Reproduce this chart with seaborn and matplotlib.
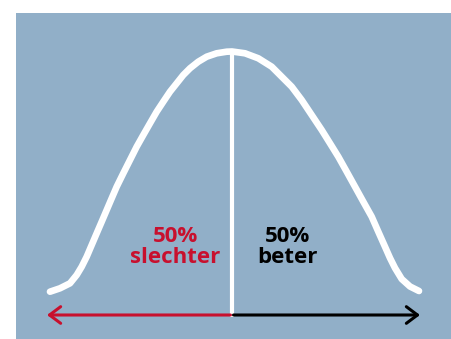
import matplotlib
matplotlib.use("Agg")
import matplotlib.pyplot as plt
import seaborn as sns

# bell curve (pixel coordinates, y down)
curve_x = [50, 60, 70, 76.7, 81.7, 86.7, 91.7, 96.7, 101.7, 106.7, 111.7, 116.7,
           123.3, 130, 136.7, 143.3, 150, 156.7, 163.3, 170, 176.7, 183.3, 190,
           198.3, 206.7, 216.7, 226.7, 232,
           245, 258.3, 271.7, 281.7, 291.7, 301.7, 311.7, 321.7, 330, 338.3,
           346.7, 355, 363.3, 371.7, 378.3, 385, 390, 395, 401.7, 410, 419]
curve_y = [291.7, 288.3, 283.3, 275, 266.7, 256.7, 245, 233.3, 221.7, 210, 198.3,
           186.7, 173.3, 160, 146.7, 135, 123.3, 111.7, 101.7, 91.7, 83.3, 75,
           68.3, 61.7, 56.7, 53.3, 51.7, 51.5,
           53.3, 58.3, 66.7, 76.7, 86.7, 100, 115, 130, 143.3, 156.7,
           171.7, 186.7, 201.7, 216.7, 231.7, 246.7, 258, 268, 279, 286.5, 291]

# split line and arrows
split_x = 232
split_top = 51
arrow_y = 315
arrow_left = 47
arrow_right = 420

labels = ["50%\nslechter", "50%\nbeter"]
label_x = [175, 287]
label_y = [247, 247]
label_colors = ["#c8102e", "#000000"]

bg_color = "#91afc8"

sns.set_theme(style="white")
plt.rcParams["font.family"] = ["Open Sans", "DejaVu Sans"]

fig = plt.figure(figsize=(4.51, 3.39), dpi=100)
fig.patch.set_facecolor("white")
ax = fig.add_axes([16 / 451, 0, 435 / 451, 326 / 339])
ax.set_facecolor(bg_color)

sns.lineplot(x=curve_x, y=curve_y, sort=False, ax=ax, color="white", lw=4.8,
             solid_capstyle="round", solid_joinstyle="round")
ax.plot([split_x, split_x], [split_top, arrow_y + 2], color="white", lw=3,
        solid_capstyle="butt")

ax.annotate("", xy=(arrow_left, arrow_y), xytext=(split_x - 1.5, arrow_y),
            arrowprops=dict(arrowstyle="->,head_length=0.4,head_width=0.3",
                            color=label_colors[0], lw=2.2, mutation_scale=20,
                            shrinkA=0, shrinkB=0))
ax.annotate("", xy=(arrow_right, arrow_y), xytext=(split_x + 1.5, arrow_y),
            arrowprops=dict(arrowstyle="->,head_length=0.4,head_width=0.3",
                            color=label_colors[1], lw=2.2, mutation_scale=20,
                            shrinkA=0, shrinkB=0))

for txt, x, y, c in zip(labels, label_x, label_y, label_colors):
    ax.text(x, y, txt, color=c, fontsize=16, fontweight="bold",
            ha="center", va="center", linespacing=1.0)

ax.set_xlim(16, 451)
ax.set_ylim(339, 13)
ax.set_xticks([])
ax.set_yticks([])
for s in ax.spines.values():
    s.set_visible(False)

fig.savefig("out.png", dpi=100)
